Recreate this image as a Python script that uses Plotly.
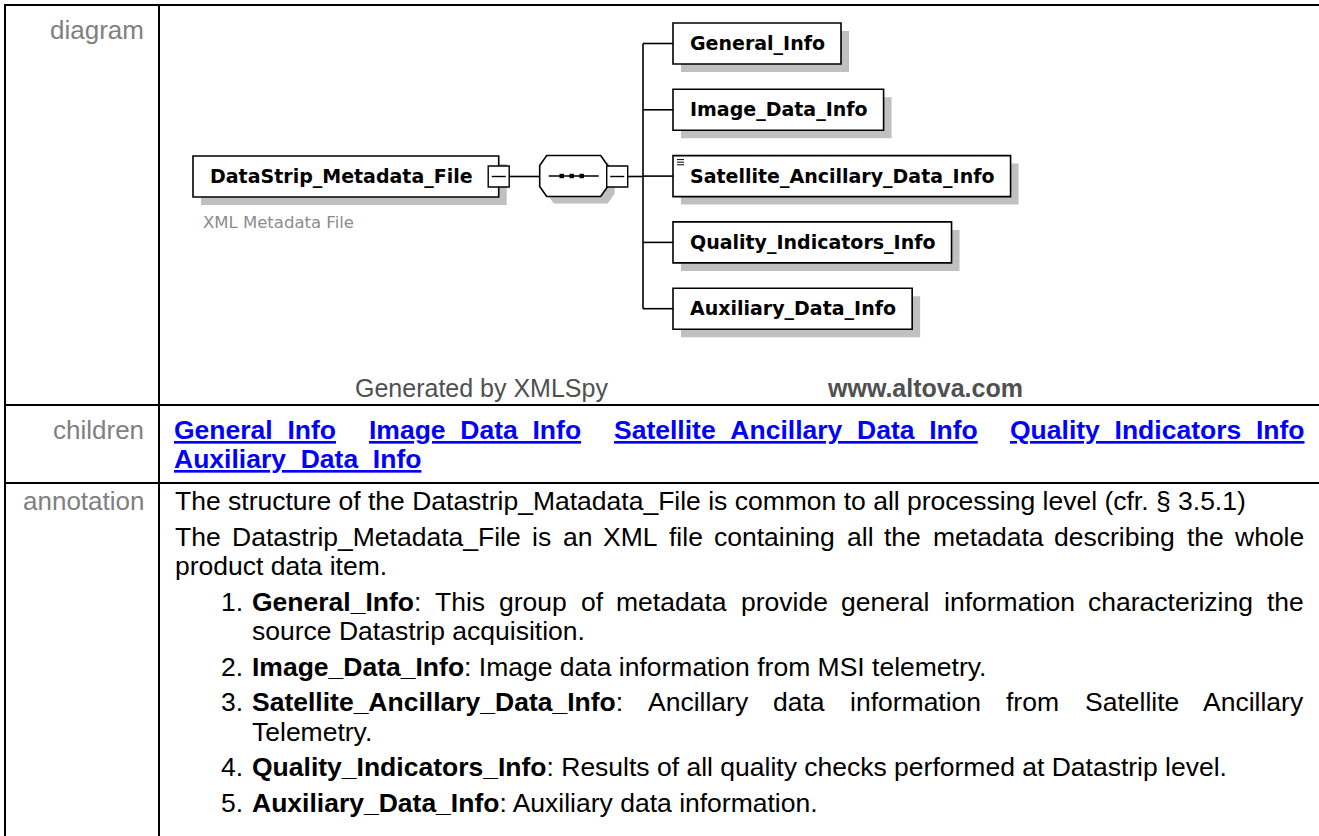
import plotly.graph_objects as go

# ---------------- data (texts of the schema documentation table) ----------------
row_labels = ["diagram", "children", "annotation"]
root_element = "DataStrip_Metadata_File"
root_documentation = "XML Metadata File"
child_elements = ["General_Info", "Image_Data_Info", "Satellite_Ancillary_Data_Info",
                  "Quality_Indicators_Info", "Auxiliary_Data_Info"]
child_has_doc_icon = [False, False, True, False, False]
footer_texts = ["Generated by XMLSpy", "www.altova.com"]
children_link_lines = [child_elements[:4], child_elements[4:]]
intro_paragraphs = [
    ["The structure of the Datastrip_Matadata_File is common to all processing level (cfr. § 3.5.1)"],
    ["The Datastrip_Metadata_File is an XML file containing all the metadata describing the whole",
     "product data item."],
]
list_terms = child_elements
list_descriptions = [
    ["This group of metadata provide general information characterizing the",
     "source Datastrip acquisition."],
    ["Image data information from MSI telemetry."],
    ["Ancillary data information from Satellite Ancillary", "Telemetry."],
    ["Results of all quality checks performed at Datastrip level."],
    ["Auxiliary data information."],
]

# ---------------- font metrics (Arial / Liberation Sans, DejaVu Sans Bold) ----------------
_AR = dict(zip(" !\"#$%&'()*+,-./:;<=>?@[\\]^_`{|}~",
               [278, 278, 355, 556, 556, 889, 667, 191, 333, 333, 389, 584, 278, 333, 278, 278,
                278, 278, 584, 584, 584, 556, 1015, 278, 278, 278, 469, 556, 333, 334, 260, 334, 584]))
_AR.update(dict(zip("ABCDEFGHIJKLMNOPQRSTUVWXYZ",
                    [667, 667, 722, 722, 667, 611, 778, 722, 278, 500, 667, 556, 833, 722, 778, 667,
                     778, 722, 667, 611, 722, 667, 944, 667, 667, 611])))
_AR.update(dict(zip("abcdefghijklmnopqrstuvwxyz",
                    [556, 556, 500, 556, 556, 278, 556, 556, 222, 222, 500, 222, 833, 556, 556, 556,
                     556, 333, 500, 278, 556, 500, 722, 500, 500, 500])))
_AR.update({d: 556 for d in "0123456789"})
_AR["§"] = 556
_ARB = dict(zip(" !\"#$%&'()*+,-./:;<=>?@[\\]^_`{|}~",
                [278, 333, 474, 556, 556, 889, 722, 238, 333, 333, 389, 584, 278, 333, 278, 278,
                 333, 333, 584, 584, 584, 611, 975, 333, 278, 333, 584, 556, 333, 389, 280, 389, 584]))
_ARB.update(dict(zip("ABCDEFGHIJKLMNOPQRSTUVWXYZ",
                     [722, 722, 722, 722, 667, 611, 778, 722, 278, 556, 722, 611, 833, 722, 778, 667,
                      778, 722, 667, 611, 722, 667, 944, 667, 667, 611])))
_ARB.update(dict(zip("abcdefghijklmnopqrstuvwxyz",
                     [556, 611, 556, 611, 556, 333, 611, 611, 278, 278, 556, 278, 889, 611, 611, 611,
                      611, 389, 556, 333, 611, 556, 778, 556, 556, 500])))
_ARB.update({d: 556 for d in "0123456789"})
_ARB["§"] = 556
_DJB = {"A": .774, "D": .830, "F": .683, "G": .821, "I": .372, "M": .995, "Q": .850, "S": .722,
        "_": .5, "a": .675, "c": .593, "d": .716, "e": .678, "f": .435, "g": .716, "i": .343,
        "l": .343, "m": 1.042, "n": .712, "o": .687, "p": .716, "r": .493, "s": .595, "t": .478,
        "u": .712, "x": .652, "y": .652}


def arial_width(runs, size):
    tot = 0
    for t, b in runs:
        tbl = _ARB if b else _AR
        tot += sum(tbl.get(ch, 556) for ch in t)
    return tot * size / 1000.0


def dejavu_bold_width(text, size):
    return sum(_DJB.get(ch, 0.68) for ch in text) * size


# ---------------- layout constants ----------------
W, H = 1319, 836
DOC_FONT = "Liberation Sans, Arial, sans-serif"
BOX_FONT = "DejaVu Sans, Verdana, sans-serif"
DOC_SIZE = 26.5
LABEL_GRAY = "#808080"
TABLE_LW = 2
TOP_Y, LEFT_X, COL_X = 5, 5, 159
ROW_Y = [405, 483]
LABEL_RIGHT = 144
TEXT_LEFT, TEXT_RIGHT = 175, 1304
NUM_RIGHT, ITEM_LEFT = 243, 252

fig = go.Figure()
shapes = []
annos = []


def add_text(html, x, y, size, color="#000000", family=DOC_FONT, xanchor="left", underline=False):
    font = dict(family=family, size=size, color=color)
    if underline:
        font["lineposition"] = "under"
    annos.append(dict(x=x, y=y, xref="x", yref="y", text=html, showarrow=False,
                      xanchor=xanchor, yanchor="middle", font=font,
                      borderpad=0, borderwidth=0))


def runs_html(runs):
    return "".join(f"<b>{t}</b>" if b else t for t, b in runs)


def add_line(words, x0, x1, y, size, justify, color="#000000", underline=False):
    if not justify or len(words) < 2:
        runs = []
        for i, w in enumerate(words):
            if i:
                runs.append((" ", False))
            runs.extend(w)
        add_text(runs_html(runs), x0, y, size, color, underline=underline)
        return
    widths = [arial_width(w, size) for w in words]
    gap = (x1 - x0 - sum(widths)) / (len(words) - 1)
    x = x0
    for i, (w, wd) in enumerate(zip(words, widths)):
        if i == len(words) - 1:
            add_text(runs_html(w), x1, y, size, color, xanchor="right", underline=underline)
        else:
            add_text(runs_html(w), x, y, size, color, underline=underline)
        x += wd + gap


def hline(x0, x1, y, w=1.6, color="#000000"):
    shapes.append(dict(type="line", xref="x", yref="y", x0=x0, x1=x1, y0=y, y1=y,
                       line=dict(color=color, width=w)))


def vline(x, y0, y1, w=1.6, color="#000000"):
    shapes.append(dict(type="line", xref="x", yref="y", x0=x, x1=x, y0=y0, y1=y1,
                       line=dict(color=color, width=w)))


def rect(x0, y0, x1, y1, fill, lw=1.6, lc="#000000"):
    shapes.append(dict(type="rect", xref="x", yref="y", x0=x0, y0=y0, x1=x1, y1=y1,
                       fillcolor=fill, line=dict(color=lc, width=lw)))


def shadow_rect(x0, y0, x1, y1, off=8):
    shapes.append(dict(type="rect", xref="x", yref="y", x0=x0 + off, y0=y0 + off,
                       x1=x1 + off, y1=y1 + off, fillcolor="#c0c0c0", line=dict(width=0)))


# ---------------- table frame ----------------
hline(4, W, TOP_Y, TABLE_LW)
vline(LEFT_X, 4, H, TABLE_LW)
vline(COL_X, 4, H, TABLE_LW)
for ry in ROW_Y:
    hline(4, W, ry, TABLE_LW)

# ---------------- diagram ----------------
BOX_SIZE = 19
BOX_H = 41
root_x0, root_y0 = 193, 156
root_text_x = root_x0 + 17
root_x1 = root_text_x + dejavu_bold_width(root_element, BOX_SIZE) + 26
cy = root_y0 + BOX_H / 2

shadow_rect(root_x0, root_y0, root_x1, root_y0 + BOX_H)
rect(root_x0, root_y0, root_x1, root_y0 + BOX_H, "#ffffff")
add_text(f"<b>{root_element}</b>", root_text_x, cy, BOX_SIZE, family=BOX_FONT)
add_text(root_documentation, root_x0 + 10, 222, 16.5, color="#8c8c8c", family=BOX_FONT)


def minus_box(xc, yc):
    rect(xc - 10.5, yc - 10.5, xc + 10.5, yc + 10.5, "#ffffff", lw=1.4)
    hline(xc - 7, xc + 7, yc, 1.4)


minus_box(root_x1, cy)
oct_x0 = root_x1 + 41
oct_x1 = oct_x0 + 68
hline(root_x1 + 10.5, oct_x0, cy)
oy0, oy1 = cy - 21, cy + 20
cut_x, cut_y = 7, 10


def octagon_path(x0, y0, x1, y1):
    pts = [(x0 + cut_x, y0), (x1 - cut_x, y0), (x1, y0 + cut_y), (x1, y1 - cut_y),
           (x1 - cut_x, y1), (x0 + cut_x, y1), (x0, y1 - cut_y), (x0, y0 + cut_y)]
    return "M " + " L ".join(f"{px},{py}" for px, py in pts) + " Z"


shapes.append(dict(type="path", xref="x", yref="y", path=octagon_path(oct_x0 + 7, oy0 + 7, oct_x1 + 7, oy1 + 7),
                   fillcolor="#c0c0c0", line=dict(width=0)))
shapes.append(dict(type="path", xref="x", yref="y", path=octagon_path(oct_x0, oy0, oct_x1, oy1),
                   fillcolor="#ffffff", line=dict(color="#000000", width=1.6)))
hline(oct_x0 + 9, oct_x1 - 9, cy - 0.5, 1.4)
for k in range(3):
    sx = oct_x0 + 22 + k * 10
    rect(sx - 2.2, cy - 2.7, sx + 2.2, cy + 1.7, "#000000", lw=0)

minus_box(oct_x1 + 9.5, cy)
bus_x = 643
hline(oct_x1 + 20, bus_x, cy)

child_x0 = 673
child_pitch = 66.3
child_top0 = 23
child_tops = [child_top0 + i * child_pitch for i in range(len(child_elements))]
vline(bus_x, child_tops[0] + BOX_H / 2, child_tops[-1] + BOX_H / 2)
for name, top, icon in zip(child_elements, child_tops, child_has_doc_icon):
    tx = child_x0 + 17
    x1 = tx + dejavu_bold_width(name, BOX_SIZE) + 16
    yc = top + BOX_H / 2
    hline(bus_x, child_x0, yc)
    shadow_rect(child_x0, top, x1, top + BOX_H)
    rect(child_x0, top, x1, top + BOX_H, "#ffffff")
    add_text(f"<b>{name}</b>", tx, yc, BOX_SIZE, family=BOX_FONT)
    if icon:
        for k in range(3):
            hline(child_x0 + 4, child_x0 + 11, top + 4 + k * 2.6, 1.0)

add_text(footer_texts[0], 355, 388, 25, color="#505050")
add_text(f"<b>{footer_texts[1]}</b>", 827, 388, 25, color="#505050")

# ---------------- row labels ----------------
label_y = [30, 430, 501]
for lab, ly in zip(row_labels, label_y):
    add_text(lab, LABEL_RIGHT, ly, 26, color=LABEL_GRAY, xanchor="right")

# ---------------- children links ----------------
link_y = [430, 459]
for i, (names, ly) in enumerate(zip(children_link_lines, link_y)):
    words = [[(n, True)] for n in names]
    add_line(words, TEXT_LEFT - 1, TEXT_RIGHT + 1, ly, DOC_SIZE,
             justify=(i < len(children_link_lines) - 1), color="#0000ff", underline=True)

# ---------------- annotation text ----------------
LINE_PITCH = 29.5
PARA_PITCH = 35.5
y = 501
first = True
for para in intro_paragraphs:
    for j, line in enumerate(para):
        if not first:
            y += LINE_PITCH if j > 0 else PARA_PITCH
        first = False
        words = [[(w, False)] for w in line.split(" ")]
        add_line(words, TEXT_LEFT, TEXT_RIGHT, y, DOC_SIZE, justify=(j < len(para) - 1))

for n, (term, lines) in enumerate(zip(list_terms, list_descriptions), start=1):
    for j, line in enumerate(lines):
        y += LINE_PITCH if j > 0 else PARA_PITCH
        words = [[(w, False)] for w in line.split(" ")]
        if j == 0:
            add_text(f"{n}.", NUM_RIGHT, y, DOC_SIZE, xanchor="right")
            words = [[(term, True), (":", False)]] + words
        add_line(words, ITEM_LEFT, TEXT_RIGHT, y, DOC_SIZE, justify=(j < len(lines) - 1))

fig.update_layout(
    width=W, height=H, margin=dict(l=0, r=0, t=0, b=0),
    paper_bgcolor="#ffffff", plot_bgcolor="#ffffff",
    xaxis=dict(range=[0, W], visible=False, fixedrange=True),
    yaxis=dict(range=[H, 0], visible=False, fixedrange=True),
    shapes=shapes, annotations=annos, showlegend=False,
)
fig.write_html("out.html", config={"displayModeBar": False, "staticPlot": True},
               post_script="document.body.style.margin='0';document.body.style.overflow='hidden';")
